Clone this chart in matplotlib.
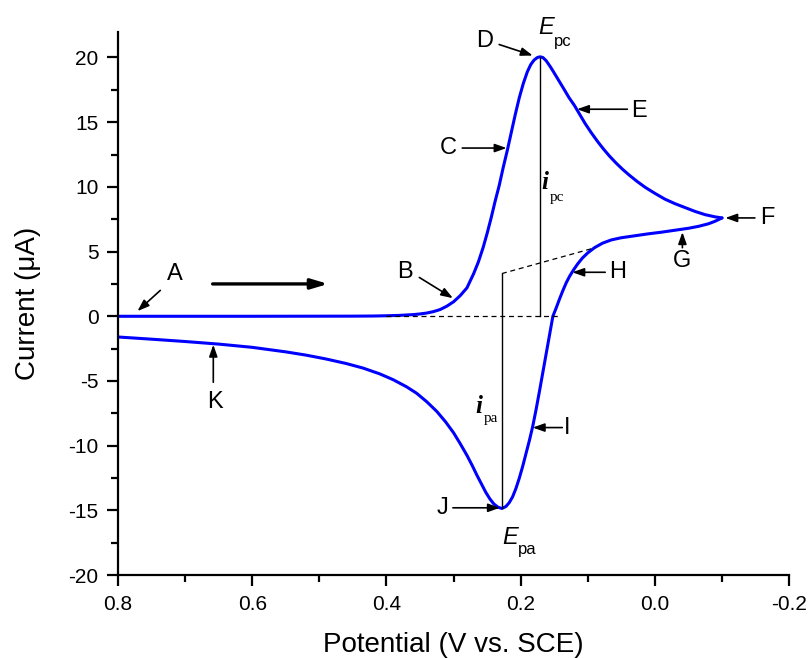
import matplotlib.pyplot as plt
from matplotlib.ticker import MultipleLocator

plt.rcParams['font.family'] = ['Liberation Sans', 'DejaVu Sans']

# forward (cathodic) sweep, 0.8 V -> -0.1 V
e_fwd = [0.80, 0.60, 0.45, 0.42, 0.40, 0.38, 0.36, 0.35, 0.34, 0.33, 0.32,
         0.31, 0.30, 0.29, 0.28, 0.27, 0.263, 0.256, 0.25, 0.244, 0.238,
         0.232, 0.226, 0.22, 0.214, 0.208, 0.202, 0.196, 0.19, 0.185, 0.18,
         0.175, 0.171, 0.167, 0.162, 0.156, 0.15, 0.143, 0.136, 0.128, 0.12,
         0.112, 0.104, 0.095, 0.086, 0.077, 0.068, 0.058, 0.048, 0.038,
         0.026, 0.014, 0.0, -0.015, -0.03, -0.045, -0.06, -0.075, -0.09,
         -0.10]
i_fwd = [0.0, 0.0, 0.01, 0.02, 0.04, 0.07, 0.13, 0.18, 0.25, 0.36, 0.52,
         0.78, 1.12, 1.6, 2.2, 3.3, 4.2, 5.3, 6.4, 7.6, 8.9,
         10.1, 11.5, 12.8, 14.2, 15.6, 16.9, 18.0, 18.9, 19.45, 19.8,
         20.0, 20.05, 20.0, 19.75, 19.3, 18.8, 18.2, 17.6, 16.9, 16.3,
         15.6, 14.9, 14.2, 13.55, 12.95, 12.4, 11.85, 11.35, 10.9,
         10.4, 9.95, 9.5, 9.05, 8.7, 8.4, 8.1, 7.85, 7.68,
         7.6]

# reverse (anodic) sweep, -0.1 V -> 0.8 V
e_rev = [-0.10, -0.09, -0.08, -0.065, -0.05, -0.03, -0.01, 0.01, 0.03, 0.05,
         0.065, 0.078, 0.09, 0.10, 0.108, 0.115, 0.121, 0.127, 0.132, 0.137,
         0.142, 0.147, 0.152, 0.157, 0.162, 0.167, 0.172, 0.177, 0.182,
         0.187, 0.192, 0.197, 0.202, 0.207, 0.212, 0.217, 0.222, 0.228,
         0.234, 0.24, 0.246, 0.252, 0.258, 0.265, 0.272, 0.28, 0.29, 0.30,
         0.312, 0.325, 0.34, 0.355, 0.37, 0.39, 0.41, 0.435, 0.46, 0.49,
         0.52, 0.55, 0.60, 0.65, 0.70, 0.75, 0.80]
i_rev = [7.6, 7.35, 7.15, 6.95, 6.8, 6.65, 6.5, 6.37, 6.22, 6.07,
         5.9, 5.65, 5.3, 4.9, 4.5, 4.05, 3.6, 3.1, 2.6, 2.0,
         1.35, 0.65, 0.0, -1.45, -2.9, -4.35, -5.8, -7.2, -8.5,
         -9.6, -10.6, -11.6, -12.5, -13.3, -13.95, -14.4, -14.7, -14.85,
         -14.75, -14.5, -14.1, -13.6, -13.0, -12.3, -11.55, -10.75, -9.85, -9.0,
         -8.15, -7.35, -6.6, -5.95, -5.45, -4.9, -4.45, -4.0, -3.65, -3.3,
         -3.0, -2.75, -2.4, -2.15, -1.95, -1.77, -1.6]

# peak positions and baselines
e_pc, i_pc = 0.171, 20.05
e_pa, i_pa = 0.228, -14.85
base_c = ([0.40, 0.141], [0.0, 0.0])
base_a = ([0.228, 0.089], [3.3, 5.3])

fig = plt.figure(figsize=(8.11, 6.58), dpi=100)
ax = fig.add_axes([0.1455, 0.126, 0.8275, 0.826])

ax.plot(e_fwd, i_fwd, color='#0000ff', lw=2.2, solid_capstyle='round',
        solid_joinstyle='round')
ax.plot(e_rev, i_rev, color='#0000ff', lw=2.2, solid_capstyle='round',
        solid_joinstyle='round')

ax.plot(*base_c, 'k--', lw=0.9, dashes=(4, 3))
ax.plot(*base_a, 'k--', lw=0.9, dashes=(4, 3))
ax.plot([e_pc, e_pc], [0.0, i_pc], 'k-', lw=1.0)
ax.plot([e_pa, e_pa], [i_pa, 3.3], 'k-', lw=1.0)

arr = dict(arrowstyle='-|>,head_length=0.7,head_width=0.25', color='k',
           lw=1.2, shrinkA=0, shrinkB=0)
fs = 17

# labelled points: (text, text pos, arrow tail, arrow head)
marks = [
    ('A', (0.716, 3.3), (0.737, 2.0), (0.771, 0.4)),
    ('B', (0.372, 3.4), (0.351, 3.0), (0.301, 1.4)),
    ('C', (0.308, 13.0), (0.287, 13.0), (0.221, 13.0)),
    ('D', (0.253, 21.3), (0.232, 21.0), (0.182, 20.15)),
    ('E', (0.024, 15.9), (0.041, 16.0), (0.116, 16.0)),
    ('F', (-0.167, 7.6), (-0.149, 7.6), (-0.105, 7.6)),
    ('G', (-0.041, 4.3), (-0.041, 5.3), (-0.041, 6.5)),
    ('H', (0.055, 3.45), (0.074, 3.4), (0.123, 3.4)),
    ('I', (0.131, -8.6), (0.138, -8.6), (0.182, -8.6)),
    ('J', (0.316, -14.8), (0.301, -14.8), (0.231, -14.8)),
    ('K', (0.655, -6.6), (0.658, -5.1), (0.658, -2.2)),
]
for lab, tpos, tail, head in marks:
    ax.text(*tpos, lab, fontsize=fs, ha='center', va='center')
    ax.annotate('', xy=head, xytext=tail, arrowprops=arr)

# sweep direction
ax.annotate('', xy=(0.487, 2.5), xytext=(0.659, 2.5),
            arrowprops=dict(arrowstyle='-|>,head_length=1.0,head_width=0.3',
                            color='k', lw=2.4, shrinkA=0, shrinkB=0))

# peak potentials
ax.text(0.162, 22.3, 'E', fontsize=fs, style='italic', ha='center',
        va='center', clip_on=False)
ax.text(0.137, 21.2, 'pc', fontsize=12, ha='center', va='center')
ax.text(0.216, -17.07, 'E', fontsize=fs, style='italic', ha='center',
        va='center')
ax.text(0.190, -18.0, 'pa', fontsize=12, ha='center', va='center')

# peak currents
ax.text(0.164, 10.3, 'i', fontsize=18, family='Liberation Serif',
        style='italic', weight='bold', ha='center', va='center')
ax.text(0.146, 9.2, 'pc', fontsize=11, family='Liberation Serif',
        ha='center', va='center')
ax.text(0.263, -7.0, 'i', fontsize=18, family='Liberation Serif',
        style='italic', weight='bold', ha='center', va='center')
ax.text(0.245, -7.9, 'pa', fontsize=11, family='Liberation Serif',
        ha='center', va='center')

ax.set_xlim(0.8, -0.2)
ax.set_ylim(-20, 22)
ax.xaxis.set_minor_locator(MultipleLocator(0.1))
ax.yaxis.set_minor_locator(MultipleLocator(2.5))
ax.set_xticks([0.8, 0.6, 0.4, 0.2, 0.0, -0.2])
ax.set_xticklabels(['0.8', '0.6', '0.4', '0.2', '0.0', '-0.2'])
ax.set_yticks([20, 15, 10, 5, 0, -5, -10, -15, -20])
ax.set_yticklabels(['20', '15', '10', '5', '0', '-5', '-10', '-15', '-20'])

for s in ('top', 'right'):
    ax.spines[s].set_visible(False)
for s in ('left', 'bottom'):
    ax.spines[s].set_linewidth(1.6)
ax.tick_params(which='major', direction='out', length=8, width=1.6,
               labelsize=15, pad=6)
ax.tick_params(which='minor', direction='out', length=5, width=1.6)

ax.set_xlabel('Potential (V vs. SCE)', fontsize=20, labelpad=13)
ax.set_ylabel('Current (\u03bcA)', fontsize=20, labelpad=20)

fig.savefig('out.png', dpi=100)
